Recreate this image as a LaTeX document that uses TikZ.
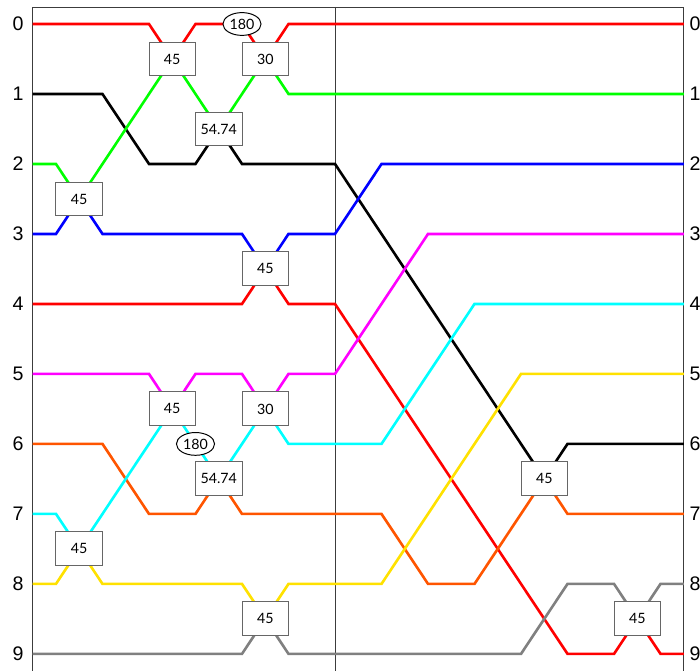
\documentclass[tikz,border=0pt]{standalone}
\usepackage{fontspec}
\setmainfont{Lato}
\newfontfamily\wirefont{Liberation Sans}
\usetikzlibrary{shapes.geometric}
\definecolor{wgreen}{RGB}{0,255,0}
\definecolor{wcyan}{RGB}{0,255,255}
\definecolor{wmagenta}{RGB}{255,0,255}
\definecolor{worange}{RGB}{255,85,0}
\definecolor{wyellow}{RGB}{255,225,0}
\definecolor{wgray}{RGB}{128,128,128}
\definecolor{framecol}{RGB}{60,60,60}
\begin{document}
\begin{tikzpicture}[x=1cm,y={(0,-1.505cm)},
  wire/.style={line width=1.6pt},
  frameline/.style={draw=framecol, line width=0.55pt},
  gate/.style={draw=black!60, fill=white, line width=0.6pt, minimum width=1cm, minimum height=0.73cm, inner sep=0pt, font=\fontsize{8.7}{10}\selectfont},
  phase/.style={ellipse, draw=black, fill=white, line width=0.6pt, minimum width=0.82cm, minimum height=0.49cm, inner sep=0pt, font=\fontsize{8.7}{10}\selectfont},
  lbl/.style={inner sep=0pt, font=\wirefont\fontsize{12}{14}\selectfont}]
\useasboundingbox (-1.204,-0.343) rectangle (13.849,9.243);

% frame
\draw[frameline] (-0.5,9.243) -- (-0.5,-0.243) -- (13.5,-0.243) -- (13.5,9.243);
\draw[frameline] (6,-0.243) -- (6,9.243);

% wire labels
\foreach \i in {0,...,9} {
  \node[lbl, anchor=east] (l\i) at (-0.69,\i) {\i};
  \node[lbl, anchor=west] (r\i) at (13.62,\i) {\i};
}

% wires
\draw[wire, red] (-0.5,0) -- (2,0) -- (2.5,0.5) -- (3,0) -- (4,0) -- (4.5,0.5) -- (5,0) -- (13.5,0);
\draw[wire, black] (-0.5,1) -- (1,1) -- (2,2) -- (3,2) -- (3.5,1.5) -- (4,2) -- (6,2) -- (10,6) -- (10.5,6.5) -- (11,6) -- (13.5,6);
\draw[wire, wgreen] (-0.5,2) -- (0,2) -- (0.5,2.5) -- (1,2) -- (2,1) -- (2.5,0.5) -- (3,1) -- (3.5,1.5) -- (4,1) -- (4.5,0.5) -- (5,1) -- (13.5,1);
\draw[wire, blue] (-0.5,3) -- (0,3) -- (0.5,2.5) -- (1,3) -- (4,3) -- (4.5,3.5) -- (5,3) -- (6,3) -- (7,2) -- (13.5,2);
\draw[wire, red] (-0.5,4) -- (4,4) -- (4.5,3.5) -- (5,4) -- (6,4) -- (11,9) -- (12,9) -- (12.5,8.5) -- (13,9) -- (13.5,9);
\draw[wire, wmagenta] (-0.5,5) -- (2,5) -- (2.5,5.5) -- (3,5) -- (4,5) -- (4.5,5.5) -- (5,5) -- (6,5) -- (8,3) -- (13.5,3);
\draw[wire, worange] (-0.5,6) -- (1,6) -- (2,7) -- (3,7) -- (3.5,6.5) -- (4,7) -- (7,7) -- (8,8) -- (9,8) -- (10,7) -- (10.5,6.5) -- (11,7) -- (13.5,7);
\draw[wire, wcyan] (-0.5,7) -- (0,7) -- (0.5,7.5) -- (1,7) -- (2,6) -- (2.5,5.5) -- (3,6) -- (3.5,6.5) -- (4,6) -- (4.5,5.5) -- (5,6) -- (7,6) -- (9,4) -- (13.5,4);
\draw[wire, wyellow] (-0.5,8) -- (0,8) -- (0.5,7.5) -- (1,8) -- (4,8) -- (4.5,8.5) -- (5,8) -- (7,8) -- (10,5) -- (13.5,5);
\draw[wire, wgray] (-0.5,9) -- (4,9) -- (4.5,8.5) -- (5,9) -- (10,9) -- (11,8) -- (12,8) -- (12.5,8.5) -- (13,8) -- (13.5,8);

% gates
\node[gate] (ga) at (0.5,2.5) {45};
\node[gate] (gb) at (2.5,0.5) {45};
\node[gate] (gc) at (3.5,1.5) {54.74};
\node[gate] (gd) at (4.5,0.5) {30};
\node[gate] (ge) at (4.5,3.5) {45};
\node[gate] (gf) at (2.5,5.5) {45};
\node[gate] (gg) at (3.5,6.5) {54.74};
\node[gate] (gh) at (4.5,5.5) {30};
\node[gate] (gi) at (0.5,7.5) {45};
\node[gate] (gj) at (4.5,8.5) {45};
\node[gate] (gk) at (10.5,6.5) {45};
\node[gate] (gl) at (12.5,8.5) {45};

% phase shifts
\node[phase] (pa) at (4,0) {180};
\node[phase] (pb) at (3,6) {180};
\end{tikzpicture}
\end{document}
